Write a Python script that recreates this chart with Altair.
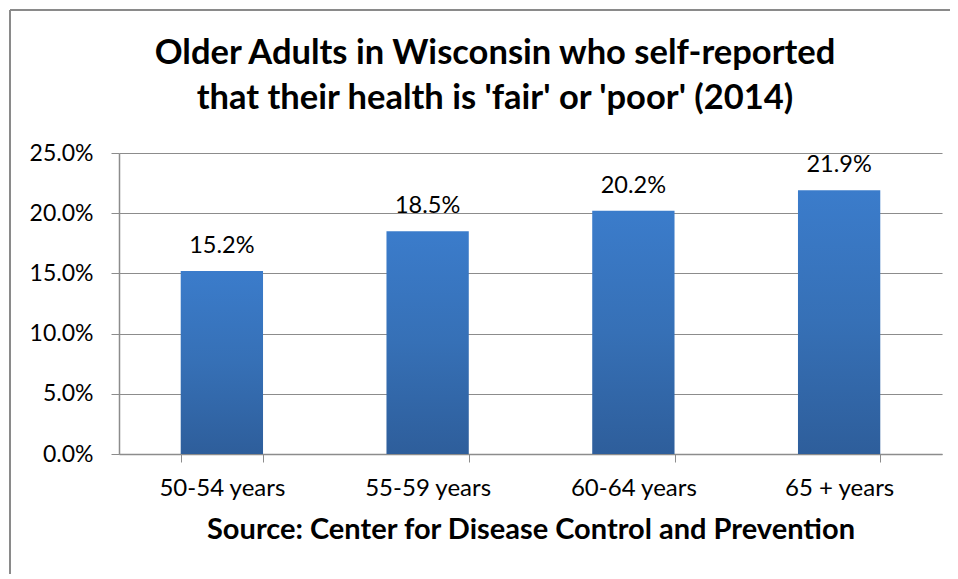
import altair as alt
import pandas as pd

categories = ["50-54 years", "55-59 years", "60-64 years", "65 + years"]
values = [15.2, 18.5, 20.2, 21.9]
labels = ["15.2%", "18.5%", "20.2%", "21.9%"]
y_ticks = [0, 0.05, 0.10, 0.15, 0.20, 0.25]
title_lines = ["Older Adults in Wisconsin who self-reported",
               "that their health is 'fair' or 'poor' (2014)"]
source_text = "Source: Center for Disease Control and Prevention"

df = pd.DataFrame({"age": categories,
                   "pct": [v / 100 for v in values],
                   "label": labels})

FONT = "Lato"
W, H = 823, 301
GRID = "#8c8c8c"

xenc = alt.X("age:N", sort=categories,
             scale=alt.Scale(paddingInner=0.6, paddingOuter=0.3),
             axis=alt.Axis(title=source_text, labelAngle=0,
                           tickBand="extent", tickSize=8, tickColor=GRID,
                           domainColor=GRID, domainWidth=1.5,
                           labelFont=FONT, labelFontSize=24, labelColor="#000",
                           labelPadding=14,
                           titleFont=FONT, titleFontSize=29, titleFontWeight="bold",
                           titleColor="#000", titlePadding=15))
yenc = alt.Y("pct:Q", scale=alt.Scale(domain=[0, 0.25], nice=False),
             axis=alt.Axis(title=None, values=y_ticks, format=".1%",
                           grid=True, gridColor=GRID, gridWidth=1.2,
                           tickSize=8, tickColor=GRID, domainColor=GRID,
                           domainWidth=1.5,
                           labelFont=FONT, labelFontSize=23, labelColor="#000",
                           labelPadding=18))

grad = alt.Gradient(gradient="linear",
                    stops=[alt.GradientStop(color="#3B7CCB", offset=0),
                           alt.GradientStop(color="#3670B6", offset=0.5),
                           alt.GradientStop(color="#2E5E9B", offset=1)],
                    x1=0, x2=0, y1=0, y2=1)

bars = alt.Chart(df).mark_bar(color=grad).encode(x=xenc, y=yenc)
text = alt.Chart(df).mark_text(font=FONT, fontSize=23.5, dy=-18,
                               baseline="alphabetic", color="#000").encode(
    x=alt.X("age:N", sort=categories), y="pct:Q", text="label:N")

one = alt.Data(values=[{"k": 1}])
left_line = alt.Chart(one).mark_rule(color="#8a8a8a", strokeWidth=2).encode(
    x=alt.value(-109), y=alt.value(-143), y2=alt.value(H + 130))
top_line = alt.Chart(one).mark_rule(color="#8a8a8a", strokeWidth=2).encode(
    x=alt.value(-109), x2=alt.value(W + 30), y=alt.value(-143))

title1 = alt.Chart(one).mark_text(font=FONT, fontSize=34.5, fontWeight="bold",
                                  color="#000", align="center",
                                  baseline="alphabetic").encode(
    x=alt.value(376), y=alt.value(-89), text=alt.value(title_lines[0]))
title2 = alt.Chart(one).mark_text(font=FONT, fontSize=34.5, fontWeight="bold",
                                  color="#000", align="center",
                                  baseline="alphabetic").encode(
    x=alt.value(376), y=alt.value(-44), text=alt.value(title_lines[1]))

chart = alt.layer(bars, text, left_line, top_line, title1, title2).properties(
    width=W, height=H,
    autosize=alt.AutoSizeParams(type="none"),
    padding={"left": 111, "top": 145, "right": 8, "bottom": 120},
).configure_view(stroke="transparent")

chart.save("out.html", embed_options={"renderer": "svg", "actions": False})
